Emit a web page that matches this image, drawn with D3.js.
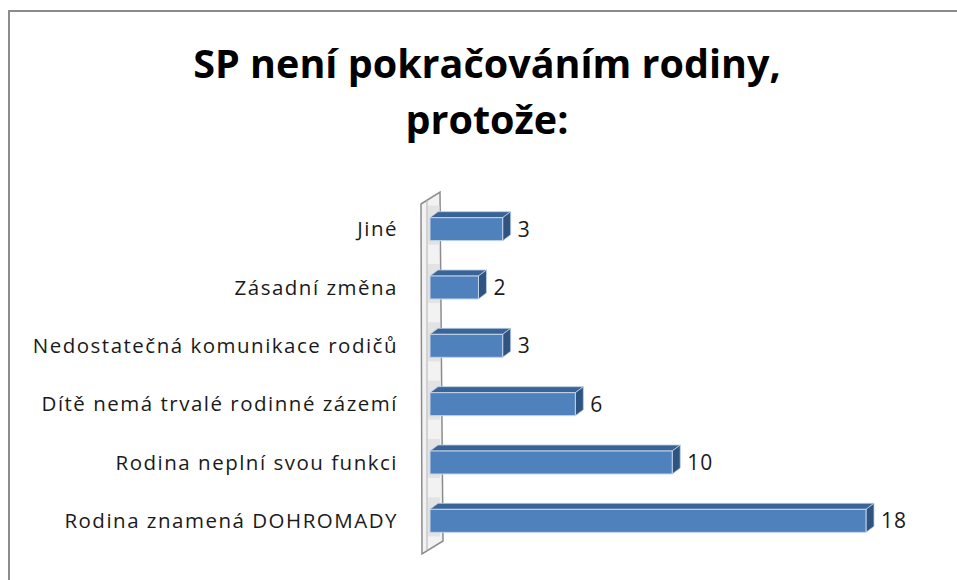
<!DOCTYPE html>
<html>
<head>
<meta charset="utf-8">
<script src="https://cdn.jsdelivr.net/npm/d3@7"></script>
<style>
  body { margin: 0; background: #fff; }
  svg { display: block; font-family: "Open Sans", sans-serif; }
</style>
</head>
<body>
<svg id="chart" width="957" height="580"></svg>
<script>
// chart data
const titleLines = ['SP není pokračováním rodiny,', 'protože:'];
const categories = [
  'Jiné',
  'Zásadní změna',
  'Nedostatečná komunikace rodičů',
  'Dítě nemá trvalé rodinné zázemí',
  'Rodina neplní svou funkci',
  'Rodina znamená DOHROMADY'
];
const values = [3, 2, 3, 6, 10, 18];

const width = 957, height = 580;
const svg = d3.select('#chart');

// outer frame
svg.append('rect')
  .attr('x', 9).attr('y', 11)
  .attr('width', 980).attr('height', 600)
  .attr('fill', '#fff')
  .attr('stroke', '#8c8c8c')
  .attr('stroke-width', 2);

// title
svg.append('text')
  .attr('x', 487).attr('y', 0)
  .attr('text-anchor', 'middle')
  .attr('font-size', 39.5)
  .attr('font-weight', 'bold')
  .attr('fill', '#000')
  .selectAll('tspan')
  .data(titleLines)
  .enter().append('tspan')
  .attr('x', 487)
  .attr('y', (d, i) => 78 + i * 56)
  .text(d => d);

const x = d3.scaleLinear().domain([0, 18]).range([430, 866]);
const y = d3.scaleBand().domain(categories).range([200, 550]);

const barH = 23;
const dx = 8, dy = 6;

// side wall (3D)
const wall = svg.append('g');
wall.append('path')
  .attr('d', 'M421,204 L440,192 L443,541 L422,554 Z')
  .attr('fill', '#f2f2f2')
  .attr('stroke', '#8c8c8c')
  .attr('stroke-width', 1.5);
wall.append('line')
  .attr('x1', 427).attr('y1', 200).attr('x2', 427).attr('y2', 550)
  .attr('stroke', '#b0b0b0').attr('stroke-width', 1);
// soft shadows on wall where bars touch
wall.selectAll('rect.sh')
  .data(categories)
  .enter().append('rect')
  .attr('class', 'sh')
  .attr('x', 428)
  .attr('y', d => y(d) + y.bandwidth() / 2 - barH / 2 - dy - 6)
  .attr('width', 12)
  .attr('height', barH + 16)
  .attr('fill', '#d9d9d9')
  .attr('opacity', 0.6);

// category labels
svg.append('g')
  .selectAll('text')
  .data(categories)
  .enter().append('text')
  .attr('x', 398)
  .attr('y', d => y(d) + y.bandwidth() / 2)
  .attr('dy', '0.35em')
  .attr('text-anchor', 'end')
  .attr('font-size', 20.5)
  .attr('letter-spacing', 1.5)
  .attr('fill', '#1a1a1a')
  .text(d => d);

// bars
const bars = svg.append('g')
  .selectAll('g')
  .data(categories.map((c, i) => ({ c, v: values[i] })))
  .enter().append('g');

bars.append('path') // top face
  .attr('d', d => {
    const x0 = x(0), x1 = x(d.v), t = y(d.c) + y.bandwidth() / 2 - barH / 2;
    return `M${x0},${t} L${x0 + dx},${t - dy} L${x1 + dx},${t - dy} L${x1},${t} Z`;
  })
  .attr('fill', '#3a6496')
  .attr('stroke', '#b9cde5').attr('stroke-width', 0.8);

bars.append('path') // side face
  .attr('d', d => {
    const x1 = x(d.v), t = y(d.c) + y.bandwidth() / 2 - barH / 2;
    return `M${x1},${t} L${x1 + dx},${t - dy} L${x1 + dx},${t - dy + barH} L${x1},${t + barH} Z`;
  })
  .attr('fill', '#2f5482')
  .attr('stroke', '#b9cde5').attr('stroke-width', 0.8);

bars.append('rect') // front face
  .attr('x', x(0))
  .attr('y', d => y(d.c) + y.bandwidth() / 2 - barH / 2)
  .attr('width', d => x(d.v) - x(0))
  .attr('height', barH)
  .attr('fill', '#4f81bd')
  .attr('stroke', '#c6d6ea').attr('stroke-width', 1);

// value labels
bars.append('text')
  .attr('x', d => x(d.v) + dx + 7)
  .attr('y', d => y(d.c) + y.bandwidth() / 2)
  .attr('dy', '0.35em')
  .attr('font-size', 21)
  .attr('letter-spacing', 1)
  .attr('fill', '#1a1a1a')
  .text(d => d.v);
</script>
</body>
</html>
